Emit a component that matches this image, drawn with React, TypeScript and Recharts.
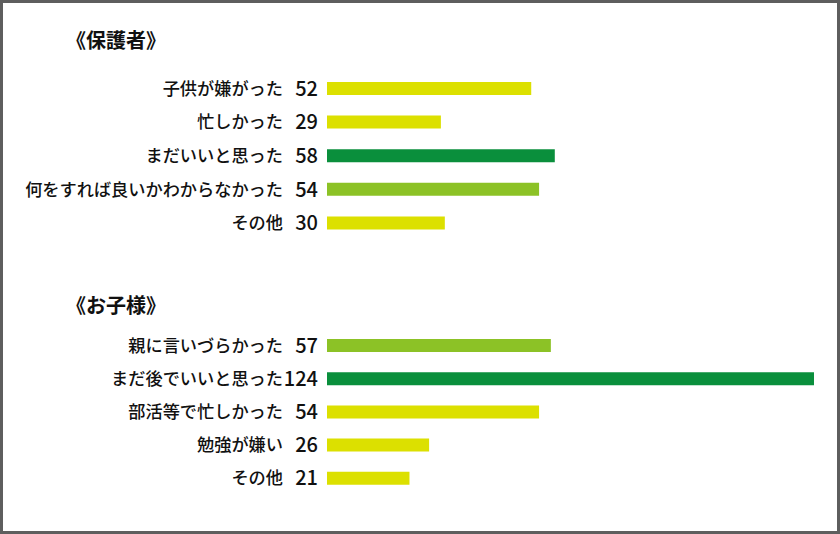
import React from 'react';
import { BarChart, Bar, XAxis, YAxis, Cell } from 'recharts';

const parentLabels = ['子供が嫌がった', '忙しかった', 'まだいいと思った', '何をすれば良いかわからなかった', 'その他'];
const parentValues = [52, 29, 58, 54, 30];
const childLabels = ['親に言いづらかった', 'まだ後でいいと思った', '部活等で忙しかった', '勉強が嫌い', 'その他'];
const childValues = [57, 124, 54, 26, 21];
const headers = ['《保護者》', '《お子様》'];

const YELLOW = '#dce000';
const DARK = '#0a8f3c';
const LIGHT = '#8cc226';
const parentColors = [YELLOW, YELLOW, DARK, LIGHT, YELLOW];
const childColors = [LIGHT, DARK, YELLOW, YELLOW, YELLOW];

const FONT = '"Noto Sans CJK JP", "Noto Sans", sans-serif';

function makeTick(values: number[]) {
  return (props: any) => {
    const { y, payload } = props;
    const idx = payload.index ?? 0;
    return (
      <g>
        <text x={283} y={y} dy={6} textAnchor="end" fontSize={17.2} fontWeight={500} fill="#111" fontFamily={FONT}>
          {payload.value}
        </text>
        <text x={318} y={y} dy={7} textAnchor="end" fontSize={20} fontWeight={500} fill="#111" fontFamily={FONT}>
          {values[idx]}
        </text>
      </g>
    );
  };
}

function Group({ labels, values, colors, top, height }: { labels: string[]; values: number[]; colors: string[]; top: number; height: number }) {
  const data = labels.map((name, i) => ({ name, value: values[i] }));
  return (
    <div style={{ position: 'absolute', left: 0, top }}>
      <BarChart
        width={840}
        height={height}
        data={data}
        layout="vertical"
        margin={{ top: 0, right: 26, bottom: 0, left: 0 }}
        barCategoryGap={0}
      >
        <XAxis type="number" domain={[0, 124]} hide />
        <YAxis
          type="category"
          dataKey="name"
          width={327}
          axisLine={false}
          tickLine={false}
          interval={0}
          tick={makeTick(values)}
        />
        <Bar dataKey="value" barSize={13} isAnimationActive={false}>
          {data.map((d, i) => (
            <Cell key={i} fill={colors[i]} />
          ))}
        </Bar>
      </BarChart>
    </div>
  );
}

export default function App() {
  return (
    <div style={{ position: 'fixed', left: 0, top: 0, width: 840, height: 534, background: '#fff', fontFamily: FONT }}>
      <div style={{ position: 'absolute', left: 66, top: 27, fontSize: 20, fontWeight: 'bold', color: '#111', lineHeight: '26px' }}>
        {headers[0]}
      </div>
      <div style={{ position: 'absolute', left: 66, top: 292, fontSize: 20, fontWeight: 'bold', color: '#111', lineHeight: '26px' }}>
        {headers[1]}
      </div>
      <Group labels={parentLabels} values={parentValues} colors={parentColors} top={72} height={168} />
      <Group labels={childLabels} values={childValues} colors={childColors} top={329} height={166} />
      <div style={{ position: 'absolute', left: 0, top: 0, width: 840, height: 534, boxSizing: 'border-box', border: '3px solid #5e5e5e', pointerEvents: 'none' }} />
    </div>
  );
}
